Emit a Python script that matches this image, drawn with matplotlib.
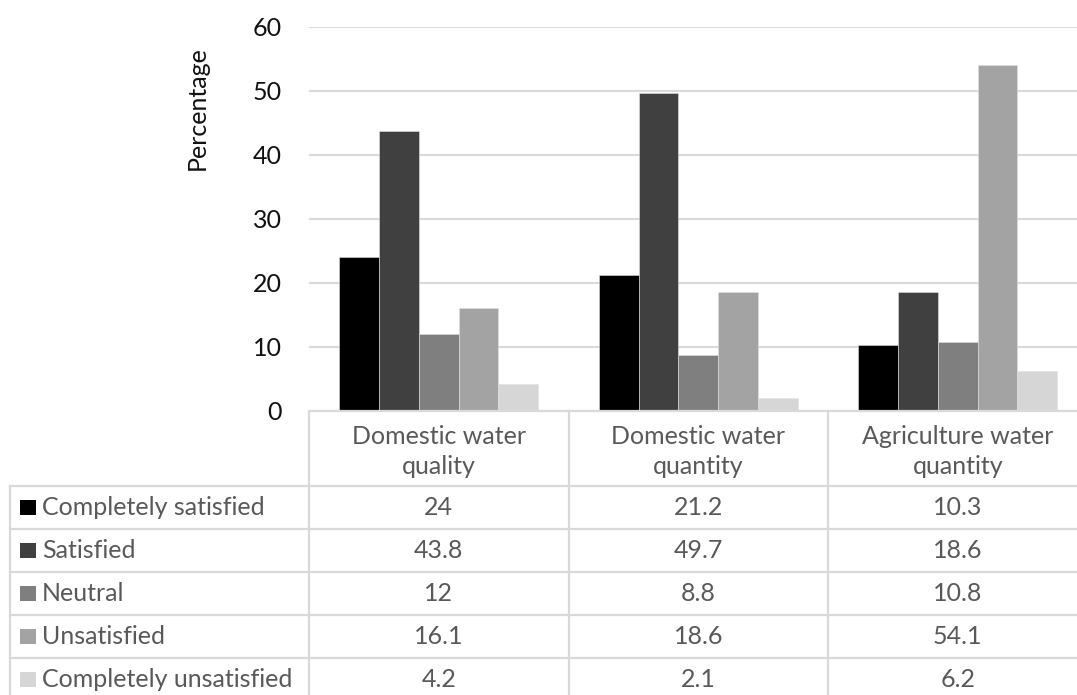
import matplotlib
matplotlib.use("Agg")
import matplotlib.pyplot as plt
import numpy as np

plt.rcParams['font.family'] = ['Lato', 'DejaVu Sans']

categories = ["Domestic water\nquality", "Domestic water\nquantity", "Agriculture water\nquantity"]
series_names = ["Completely satisfied", "Satisfied", "Neutral", "Unsatisfied", "Completely unsatisfied"]
completely_satisfied = [24, 21.2, 10.3]
satisfied = [43.8, 49.7, 18.6]
neutral = [12, 8.8, 10.8]
unsatisfied = [16.1, 18.6, 54.1]
completely_unsatisfied = [4.2, 2.1, 6.2]
y_ticks = [0, 10, 20, 30, 40, 50, 60]

series_values = [completely_satisfied, satisfied, neutral, unsatisfied, completely_unsatisfied]
colors = ["#000000", "#404040", "#7F7F7F", "#A3A3A3", "#D6D6D6"]
grid_col = "#D9D9D9"
text_col = "#595959"
fs = 18

W, H = 1077, 695
fig = plt.figure(figsize=(W / 100, H / 100), dpi=100)

# pixel geometry of the plotting region
x0, x_cat = 309, 259.5
y_zero, y_top = 411, 27
x1 = x0 + 3 * x_cat

ax = fig.add_axes([x0 / W, (H - y_zero) / H, (x1 - x0) / W, (y_zero - y_top) / H])
ax.set_xlim(-0.5, 2.5)
ax.set_ylim(0, 60)
group_w = 0.767
bw = group_w / len(series_names)
xc = np.arange(len(categories))
for i, (vals, c) in enumerate(zip(series_values, colors)):
    ax.bar(xc - group_w / 2 + bw * (i + 0.5), vals, width=bw, color=c,
           edgecolor="#E0E0E0", linewidth=0.4, zorder=3)
for t in y_ticks:
    ax.axhline(t, color=grid_col, lw=1.5, zorder=1)
ax.set_yticks(y_ticks)
ax.set_yticklabels([str(t) for t in y_ticks], fontsize=fs, color="#111111")
ax.tick_params(axis='y', length=0, pad=19.5)
ax.set_xticks([])
for s in ax.spines.values():
    s.set_visible(False)

# data table below the plot, drawn in pixel coordinates
tb = fig.add_axes([0, 0, 1, 1], zorder=0)
tb.set_xlim(0, W)
tb.set_ylim(H, 0)
tb.axis("off")
tb.text(197, 108, "Percentage", rotation=90, ha="center", va="center",
        fontsize=fs, color="#111111")

lw = 1.6
header_bottom = 486
row_h = 43
table_left = 10
n_rows = len(series_names)
bottom = header_bottom + row_h * n_rows
# horizontal lines
tb.plot([x0, x1], [y_zero, y_zero], color=grid_col, lw=lw)
for r in range(n_rows + 1):
    y = header_bottom + r * row_h
    tb.plot([table_left, x1], [y, y], color=grid_col, lw=lw)
# vertical lines
tb.plot([table_left, table_left], [header_bottom, bottom], color=grid_col, lw=lw)
for k in range(len(categories) + 1):
    xx = x0 + k * x_cat
    tb.plot([xx, xx], [y_zero, bottom], color=grid_col, lw=lw)

# header cells
for k, cat in enumerate(categories):
    tb.text(x0 + (k + 0.5) * x_cat, (y_zero + header_bottom) / 2 + 3, cat,
            ha="center", va="center", fontsize=fs, color=text_col, linespacing=1.35)

# body rows: legend key + name + values
for r, (name, vals, c) in enumerate(zip(series_names, series_values, colors)):
    yc = header_bottom + (r + 0.5) * row_h
    tb.add_patch(plt.Rectangle((20, yc - 8), 15.5, 15.5, color=c, lw=0))
    tb.text(42, yc, name, ha="left", va="center", fontsize=fs, color=text_col)
    for k, v in enumerate(vals):
        tb.text(x0 + (k + 0.5) * x_cat, yc, f"{v:g}", ha="center", va="center",
                fontsize=fs, color=text_col)

fig.savefig("out.png", dpi=100)
